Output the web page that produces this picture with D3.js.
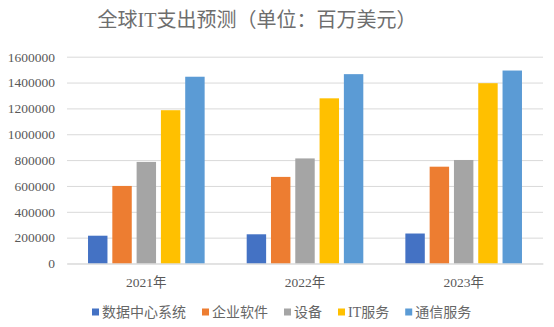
<!DOCTYPE html>
<html><head><meta charset="utf-8">
<script src="https://cdn.jsdelivr.net/npm/d3@7/dist/d3.min.js"></script>
<style>
body{margin:0;background:#fff;}
text{font-family:"Liberation Serif","Noto Sans CJK SC",serif;fill:#595959;}
</style></head>
<body><svg id="c" width="554" height="327"></svg>
<script>
const categories = ["2021年","2022年","2023年"];
const seriesNames = ["数据中心系统","企业软件","设备","IT服务","通信服务"];
const dataCenter = [215000, 226000, 232000];
const software = [600000, 670000, 749000];
const devices = [786000, 813000, 801000];
const itServices = [1186000, 1278000, 1395000];
const commServices = [1445000, 1465000, 1493000];
const yTicks = [0,200000,400000,600000,800000,1000000,1200000,1400000,1600000];
const colors = ["#4472C4","#ED7D31","#A5A5A5","#FFC000","#5B9BD5"];
const series = [dataCenter, software, devices, itServices, commServices];

const svg = d3.select("#c");
const m = {l:67, r:543, t:56.7, b:263.5};
const x0 = d3.scaleBand().domain(categories).range([m.l, m.r]).paddingInner(0).paddingOuter(0);
const y = d3.scaleLinear().domain([0,1600000]).range([m.b, m.t]);
const groupW = x0.bandwidth()*0.735;
const x1 = d3.scaleBand().domain(seriesNames).range([0, groupW]).paddingInner(0.2).paddingOuter(0);

svg.append("text").attr("x",257).attr("y",27).attr("text-anchor","middle")
  .style("font-size","20px").style("fill","#6e6e6e").text("全球IT支出预测（单位：百万美元）");

const ya = svg.append("g").attr("transform",`translate(${m.l},0)`)
  .call(d3.axisLeft(y).tickValues(yTicks).tickSize(-(m.r-m.l)).tickPadding(12).tickFormat(d3.format("d")));
ya.select(".domain").remove();
ya.selectAll(".tick line").attr("stroke","#d9d9d9").attr("stroke-width",1);
ya.selectAll(".tick text").style("font-size","13.5px").attr("fill","#595959");

const g = svg.append("g");
categories.forEach((c,i)=>{
  const gx = x0(c) + (x0.bandwidth()-groupW)/2;
  seriesNames.forEach((s,j)=>{
    g.append("rect").attr("x", gx + x1(s)).attr("width", x1.bandwidth())
      .attr("y", y(series[j][i])).attr("height", y(0)-y(series[j][i])).attr("fill", colors[j]);
  });
});

const xa = svg.append("g").attr("transform",`translate(0,${m.b})`)
  .call(d3.axisBottom(x0).tickSize(0).tickPadding(14));
xa.select(".domain").attr("stroke","#d9d9d9");
xa.selectAll(".tick text").style("font-size","13.5px").attr("fill","#595959");

// legend
const lg = svg.append("g");
let cx = 0;
seriesNames.forEach((s,j)=>{
  const it = lg.append("g");
  it.append("rect").attr("x",cx).attr("y",-3.5).attr("width",7).attr("height",7).attr("fill",colors[j]);
  const t = it.append("text").attr("x",cx+10).attr("y",5).style("font-size","14px").style("fill","#666").text(s);
  cx += 10 + t.node().getComputedTextLength() + 16;
});
lg.attr("transform",`translate(${92},312)`);
</script></body></html>
